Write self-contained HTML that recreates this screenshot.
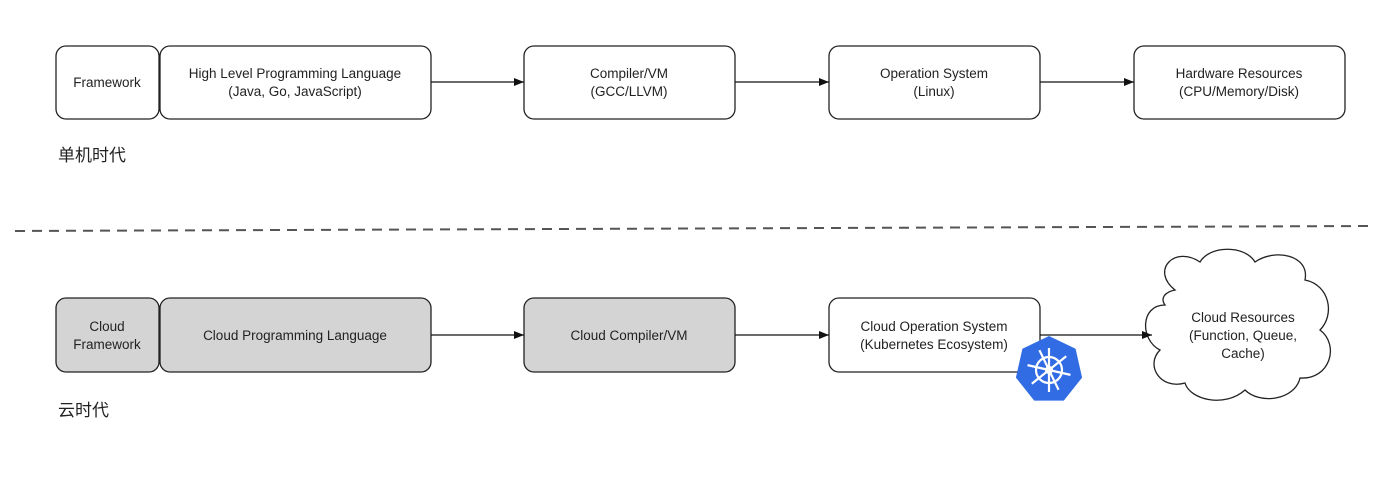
<!DOCTYPE html>
<html><head><meta charset="utf-8"><style>
html,body{margin:0;padding:0;background:#fff;}
svg text{font-family:"Liberation Sans","Noto Sans CJK SC",sans-serif;fill:#222;}
</style></head><body>
<svg width="1392" height="486" viewBox="0 0 1392 486" xmlns="http://www.w3.org/2000/svg">
<defs><marker id="a" markerWidth="10" markerHeight="8" refX="10" refY="4" orient="auto" markerUnits="userSpaceOnUse"><path d="M0,0 L10,4 L0,8 z" fill="#111"/></marker></defs>
<g stroke="#222" stroke-width="1.3" fill="#fff">
<rect x="56" y="46" width="103" height="73" rx="10"/>
<rect x="160" y="46" width="271" height="73" rx="10"/>
<rect x="524" y="46" width="211" height="73" rx="10"/>
<rect x="829" y="46" width="211" height="73" rx="10"/>
<rect x="1134" y="46" width="211" height="73" rx="10"/>
<rect x="56" y="298" width="103" height="74" rx="10" fill="#d4d4d4"/>
<rect x="160" y="298" width="271" height="74" rx="10" fill="#d4d4d4"/>
<rect x="524" y="298" width="211" height="74" rx="10" fill="#d4d4d4"/>
<rect x="829" y="298" width="211" height="74" rx="10"/>
<path d="M1175,290 C1150,270 1175,245 1200,262 C1210,245 1245,245 1255,262 C1275,248 1310,255 1305,280 C1330,285 1335,315 1320,330 C1340,345 1330,380 1300,378 C1295,400 1260,405 1245,390 C1225,408 1190,400 1185,383 C1160,390 1145,365 1160,350 C1140,340 1140,305 1165,305 C1160,298 1165,292 1175,290 Z"/>
</g>
<g stroke="#111" stroke-width="1.3" fill="none" marker-end="url(#a)">
<line x1="431" y1="82" x2="524" y2="82"/>
<line x1="735" y1="82" x2="829" y2="82"/>
<line x1="1040" y1="82" x2="1134" y2="82"/>
<line x1="431" y1="335" x2="524" y2="335"/>
<line x1="735" y1="335" x2="829" y2="335"/>
<line x1="1040" y1="335" x2="1152" y2="335"/>
</g>
<line x1="15" y1="231" x2="1372" y2="226" stroke="#555" stroke-width="2" stroke-dasharray="10,7"/>
<g font-size="13.5" text-anchor="middle">
<text x="107" y="87">Framework</text>
<text x="295" y="78">High Level Programming Language</text>
<text x="295" y="96">(Java, Go, JavaScript)</text>
<text x="629" y="78">Compiler/VM</text>
<text x="629" y="96">(GCC/LLVM)</text>
<text x="934" y="78">Operation System</text>
<text x="934" y="96">(Linux)</text>
<text x="1239" y="78">Hardware Resources</text>
<text x="1239" y="96">(CPU/Memory/Disk)</text>
<text x="107" y="331">Cloud</text>
<text x="107" y="349">Framework</text>
<text x="295" y="340">Cloud Programming Language</text>
<text x="629" y="340">Cloud Compiler/VM</text>
<text x="934" y="331">Cloud Operation System</text>
<text x="934" y="349">(Kubernetes Ecosystem)</text>
<text x="1243" y="322">Cloud Resources</text>
<text x="1243" y="340">(Function, Queue,</text>
<text x="1243" y="358">Cache)</text>
</g>
<text x="58" y="161" font-size="17">单机时代</text>
<text x="58" y="416" font-size="17">云时代</text>
<g transform="translate(1049,370)">
<polygon points="0,-34 26.6,-21.2 33.1,7.6 14.8,30.6 -14.8,30.6 -33.1,7.6 -26.6,-21.2" fill="#326ce5"/>
<g stroke="#fff" stroke-width="2.2" fill="none">
<circle r="13"/>
<circle r="3"/>
<line x1="0" y1="-22" x2="0" y2="22" transform="rotate(0)"/>
<line x1="0" y1="-22" x2="0" y2="22" transform="rotate(51.4)"/>
<line x1="0" y1="-22" x2="0" y2="22" transform="rotate(102.8)"/>
<line x1="0" y1="-22" x2="0" y2="22" transform="rotate(154.2)"/>
</g>
</g>
</svg>
</body></html>
